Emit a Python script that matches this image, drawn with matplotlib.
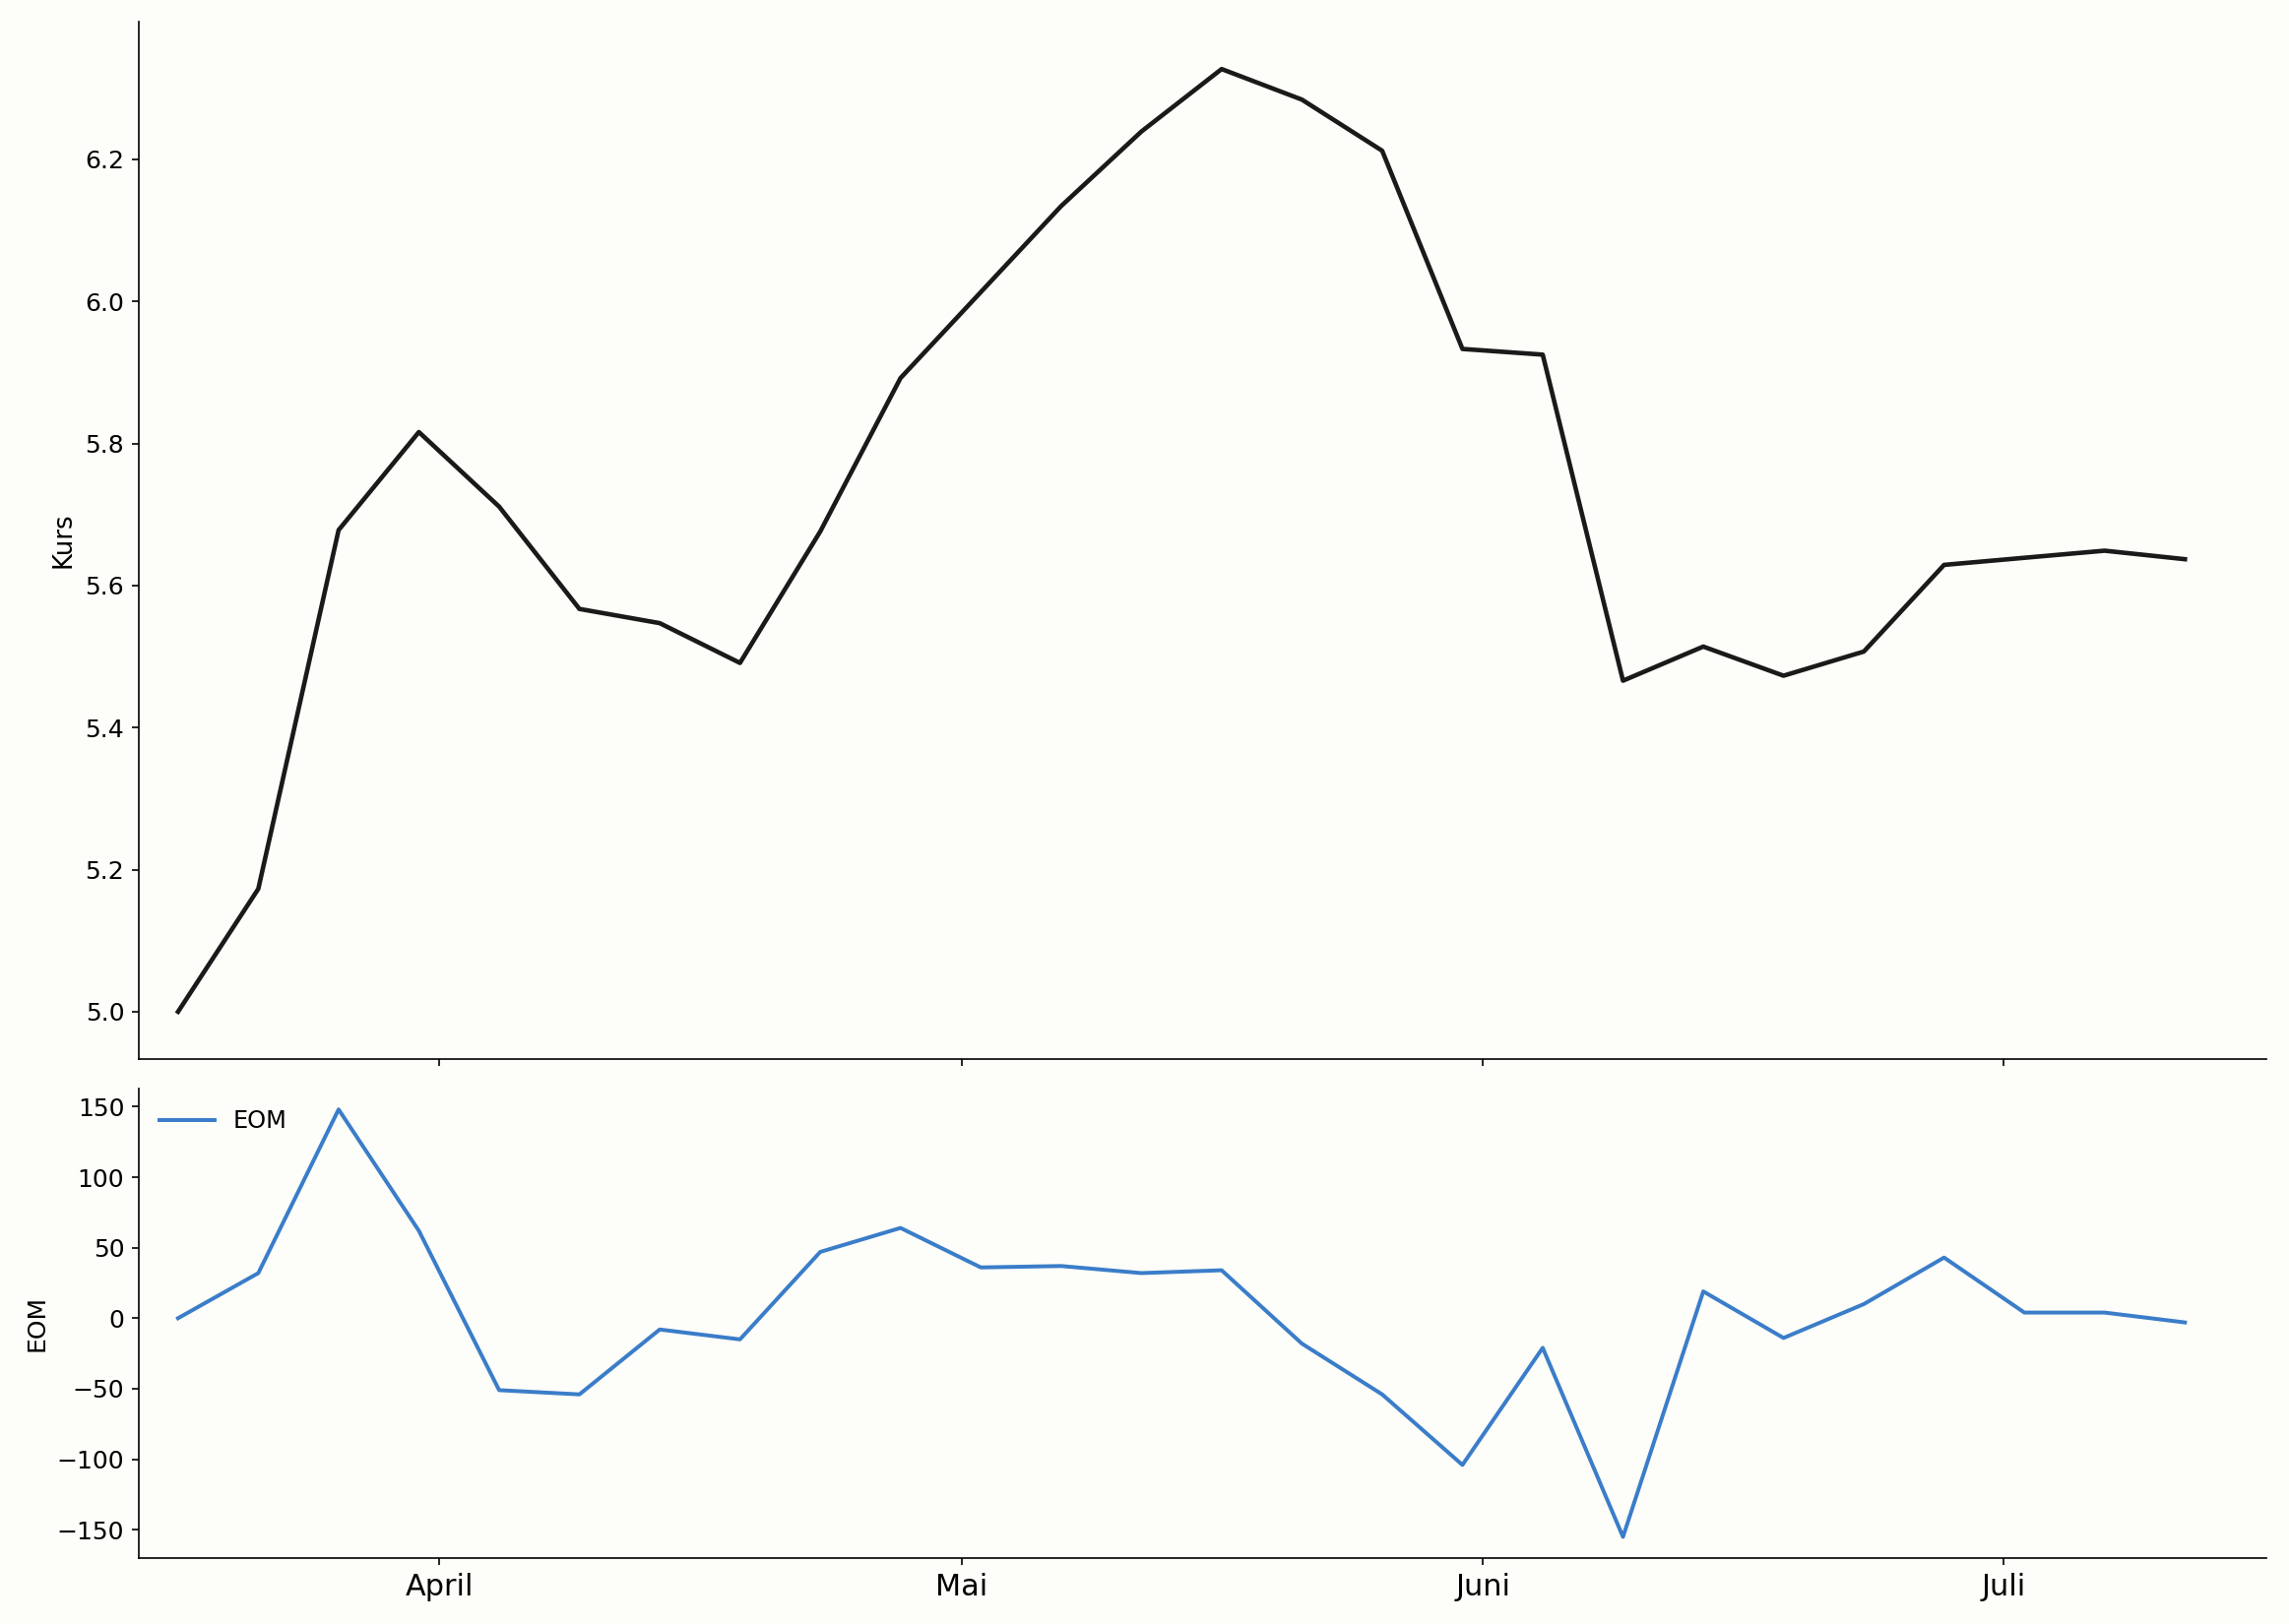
import matplotlib
matplotlib.use("Agg")
import matplotlib.pyplot as plt

# weekly points
kurs = [5.000, 5.173, 5.678, 5.816, 5.711, 5.567, 5.547, 5.491, 5.676, 5.892,
        6.013, 6.134, 6.239, 6.327, 6.284, 6.212, 5.933, 5.925, 5.466, 5.514,
        5.473, 5.507, 5.629, 5.639, 5.649, 5.637]
eom = [0, 32, 148, 62, -51, -54, -8, -15, 47, 64,
       36, 37, 32, 34, -18, -54, -104, -21, -155, 19,
       -14, 10, 43, 4, 4, -3]
months = ["April", "Mai", "Juni", "Juli"]
month_pos = [3.255, 9.764, 16.255, 22.745]

x = list(range(len(kurs)))
bg = "#fdfdf9"

fig = plt.figure(figsize=(15.5, 11), dpi=150, facecolor=bg)
ax1 = fig.add_axes([0.0606, 0.348, 0.9297, 0.6385], facecolor=bg)
ax2 = fig.add_axes([0.0606, 0.0405, 0.9297, 0.2895], facecolor=bg, sharex=ax1)

ax1.plot(x, kurs, color="#1a1a1a", lw=2.2)
ax1.set_ylabel("Kurs", fontsize=12.5)

ax2.plot(x, eom, color="#3a7dc9", lw=1.9, label="EOM")
ax2.set_ylabel("EOM", fontsize=12)
ax2.legend(loc="upper left", frameon=False, fontsize=11.5, handlelength=2.3)

for ax in (ax1, ax2):
    ax.spines["top"].set_visible(False)
    ax.spines["right"].set_visible(False)
    ax.tick_params(labelsize=12)

ax1.set_xlim(-0.49, 26.02)
ax2.set_xticks(month_pos)
ax2.set_xticklabels(months, fontsize=14.5)
ax1.tick_params(labelbottom=False)

fig.savefig("out.png", dpi=150, facecolor=bg)
